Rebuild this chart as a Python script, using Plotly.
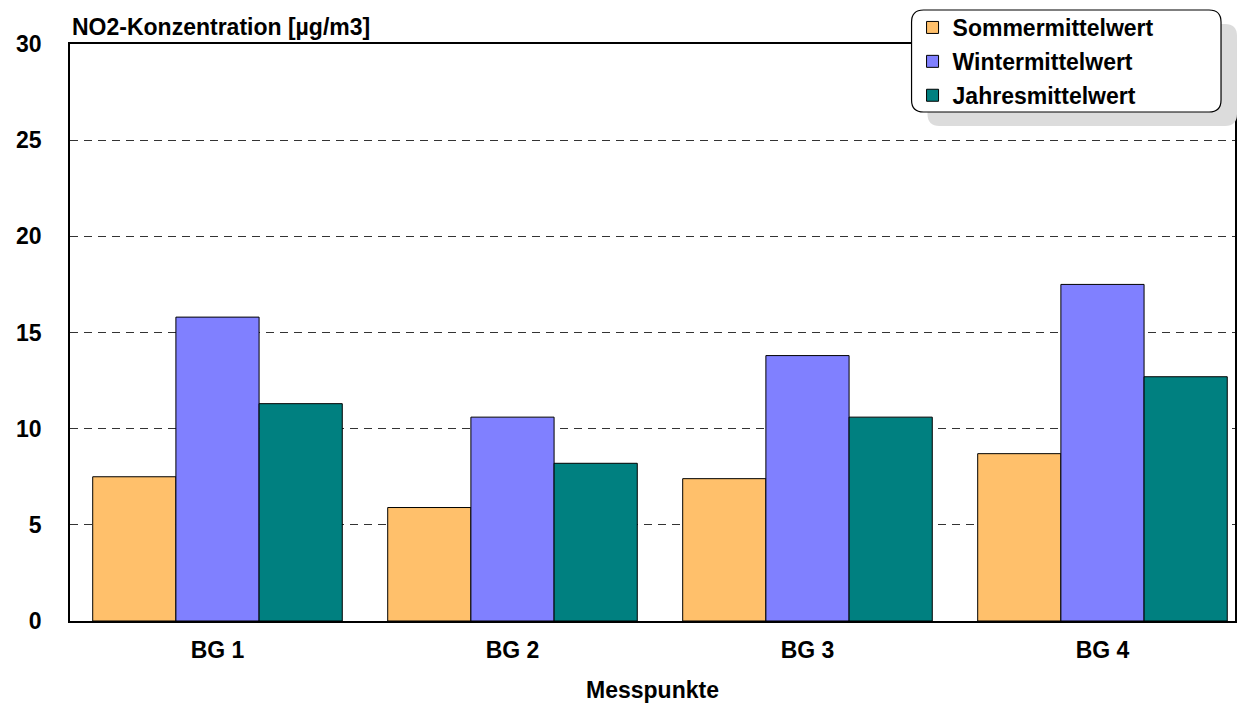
import plotly.graph_objects as go

# Messwerte NO2 [µg/m3]
categories = ['BG 1', 'BG 2', 'BG 3', 'BG 4']
sommer = [7.5, 5.9, 7.4, 8.7]
winter = [15.8, 10.6, 13.8, 17.5]
jahres = [11.3, 8.2, 10.6, 12.7]

W, H = 1237, 703
L, R, T, B = 70, 0, 44, 82
pw, ph = W - L - R, H - T - B
# the original plot area runs past the right window edge (category pitch ~295.5px)
xmax = -0.5 + pw / 295.5


def px(x):
    return (x - L) / pw


def py(y):
    return (H - B - y) / ph


FAM = 'Liberation Sans, Arial, sans-serif'
FS = 23
bold = dict(family=FAM, size=FS, color='black', weight='bold')

fig = go.Figure()
for name, vals, col in [('Sommermittelwert', sommer, '#FFC06B'),
                        ('Wintermittelwert', winter, '#8080FF'),
                        ('Jahresmittelwert', jahres, '#008080')]:
    fig.add_trace(go.Bar(x=categories, y=vals, name=name, legendgroup=name,
                         marker=dict(color=col, line=dict(color='black', width=1))))

# legend shadow and rounded frame
x0, x1, y0, y1, r = px(913), px(1223), py(10), py(112), 12
rx, ry = r / pw, r / ph


def rounded(dx, dy):
    a, b, c, d = x0 + dx, x1 + dx, y0 + dy, y1 + dy
    return (f'M {a+rx},{c} L {b-rx},{c} Q {b},{c} {b},{c-ry} '
            f'L {b},{d+ry} Q {b},{d} {b-rx},{d} L {a+rx},{d} '
            f'Q {a},{d} {a},{d+ry} L {a},{c-ry} Q {a},{c} {a+rx},{c} Z')


fig.update_layout(
    width=W, height=H,
    margin=dict(l=L, r=R, t=T, b=B),
    paper_bgcolor='white', plot_bgcolor='white',
    font=dict(family=FAM, size=FS, color='black'),
    barmode='group', bargap=0.154, bargroupgap=0,
    xaxis=dict(range=[-0.5, xmax], showline=True, linecolor='black', linewidth=1.5,
               mirror=True, ticks='', tickfont=bold, ticklabelstandoff=8),
    yaxis=dict(range=[0, 30], dtick=5, showline=True, linecolor='black', linewidth=1.5,
               mirror=True, ticks='', showgrid=True, gridcolor='#333333', griddash='8px,6px',
               gridwidth=1, zeroline=False, ticklabelstandoff=22, tickfont=bold),
    legend=dict(x=px(914), y=py(6), xanchor='left', yanchor='top',
                bgcolor='rgba(0,0,0,0)', borderwidth=0, traceorder='grouped',
                tracegroupgap=1, font=bold),
    shapes=[
        dict(type='path', xref='paper', yref='paper', path=rounded(16 / pw, -14 / ph),
             fillcolor='#DCDCDC', line=dict(width=0), layer='above'),
        dict(type='path', xref='paper', yref='paper', path=rounded(0, 0),
             fillcolor='white', line=dict(color='black', width=1.2), layer='above'),
    ],
    annotations=[
        dict(text='NO2-Konzentration [µg/m3]', xref='paper', yref='paper',
             x=0, y=py(27), xanchor='left', yanchor='middle', showarrow=False, font=bold),
        dict(text='Messpunkte', xref='paper', yref='paper',
             x=px(653), y=py(690), xanchor='center', yanchor='middle', showarrow=False,
             font=bold),
    ],
)

# drop the default page margin so the 1237x703 figure fills the window exactly
fig.write_html('out.html', config={'displayModeBar': False},
               post_script="document.body.style.margin='0';document.body.style.overflow='hidden';")
